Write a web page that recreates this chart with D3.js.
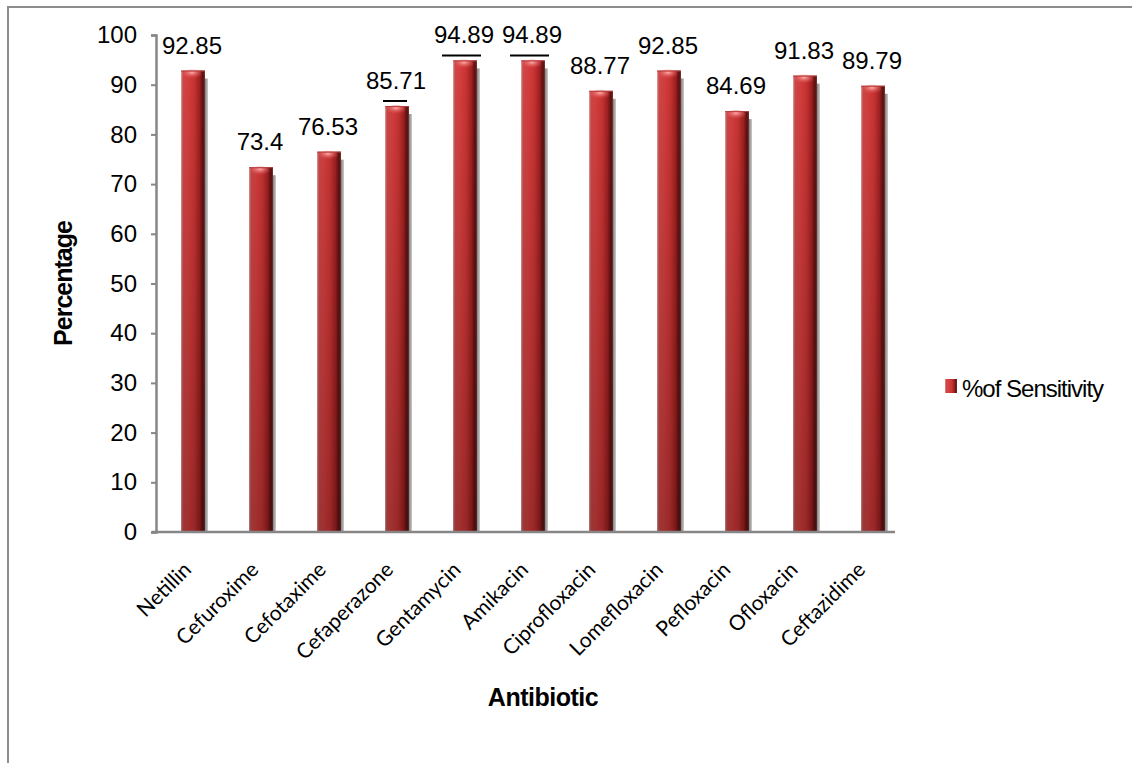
<!DOCTYPE html>
<html>
<head>
<meta charset="utf-8">
<script src="https://cdn.jsdelivr.net/npm/d3@7"></script>
<style>
  html, body { margin: 0; padding: 0; background: #fff; }
  svg { display: block; }
</style>
</head>
<body>
<svg id="chart" width="1132" height="763"></svg>
<script>
// Antibiotic sensitivity data
const antibiotics = ["Netillin", "Cefuroxime", "Cefotaxime", "Cefaperazone", "Gentamycin",
  "Amikacin", "Ciprofloxacin", "Lomefloxacin", "Pefloxacin", "Ofloxacin", "Ceftazidime"];
const sensitivity = [92.85, 73.4, 76.53, 85.71, 94.89, 94.89, 88.77, 92.85, 84.69, 91.83, 89.79];
const yTicks = [0, 10, 20, 30, 40, 50, 60, 70, 80, 90, 100];
const seriesName = "%of Sensitivity";
// labels that carry a short rule above their bar
const ruled = ["Cefaperazone", "Gentamycin", "Amikacin"];

const svg = d3.select("#chart");
const W = 1132, H = 763;
const plot = { left: 156, right: 904, axisEnd: 895, top: 35, bottom: 532 };

// outer chart frame
svg.append("rect")
  .attr("x", 8).attr("y", 7)
  .attr("width", W + 20).attr("height", H + 20)
  .attr("fill", "none").attr("stroke", "#8c8c8c").attr("stroke-width", 2);

// bars sit on a band scale; the slanted category labels use the (slightly tighter) front-edge scale
const x = d3.scaleBand().domain(antibiotics).range([plot.left, plot.right]).padding(0);
const xLabel = d3.scalePoint().domain(antibiotics).range([192, 866]);
const y = d3.scaleLinear().domain([0, 100]).range([plot.bottom, plot.top]);

const defs = svg.append("defs");
// cylinder shading across the bar
const hg = defs.append("linearGradient").attr("id", "cyl").attr("x1", 0).attr("x2", 1).attr("y1", 0).attr("y2", 0);
[[0, "#e7a7a7"], [0.08, "#cc4a4a"], [0.3, "#d83e3e"], [0.55, "#ca3434"], [0.78, "#a02020"], [0.92, "#5a0e0e"], [1, "#7a3a3a"]]
  .forEach(([o, c]) => hg.append("stop").attr("offset", o).attr("stop-color", c));
// darkening toward the base
const vg = defs.append("linearGradient").attr("id", "fade")
  .attr("gradientUnits", "userSpaceOnUse")
  .attr("x1", 0).attr("x2", 0).attr("y1", plot.top).attr("y2", plot.bottom);
vg.append("stop").attr("offset", 0).attr("stop-color", "#000").attr("stop-opacity", 0);
vg.append("stop").attr("offset", 1).attr("stop-color", "#000").attr("stop-opacity", 0.25);
// highlight on the bar top
const rg = defs.append("radialGradient").attr("id", "cap").attr("cx", 0.5).attr("cy", 0.3).attr("r", 0.6);
rg.append("stop").attr("offset", 0).attr("stop-color", "#ffb0b0").attr("stop-opacity", 0.95);
rg.append("stop").attr("offset", 1).attr("stop-color", "#e04848").attr("stop-opacity", 0);
// cast shadow beside the bar
const sg = defs.append("linearGradient").attr("id", "shadow").attr("x1", 0).attr("x2", 1);
sg.append("stop").attr("offset", 0).attr("stop-color", "#555");
sg.append("stop").attr("offset", 1).attr("stop-color", "#bbb");

const barW = 24, shift = 3;
const data = antibiotics.map((a, i) => ({ name: a, value: sensitivity[i] }));
const cx = d => x(d.name) + x.bandwidth() / 2 + shift;

const bars = svg.append("g").selectAll("g").data(data).join("g");

// shadow strip
bars.append("rect")
  .attr("x", d => cx(d) + barW / 2)
  .attr("y", d => y(d.value) + 8)
  .attr("width", 3)
  .attr("height", d => plot.bottom - y(d.value) - 8)
  .attr("fill", "url(#shadow)").attr("opacity", 0.75);

bars.append("rect")
  .attr("x", d => cx(d) - barW / 2)
  .attr("y", d => y(d.value))
  .attr("width", barW)
  .attr("height", d => plot.bottom - y(d.value))
  .attr("fill", "url(#cyl)");
bars.append("rect")
  .attr("x", d => cx(d) - barW / 2)
  .attr("y", d => y(d.value))
  .attr("width", barW)
  .attr("height", d => plot.bottom - y(d.value))
  .attr("fill", "url(#fade)");
bars.append("ellipse")
  .attr("cx", d => cx(d) - 1)
  .attr("cy", d => y(d.value) + 4)
  .attr("rx", barW / 2 - 2).attr("ry", 5)
  .attr("fill", "url(#cap)");
bars.append("line")
  .attr("x1", d => cx(d) - barW / 2).attr("x2", d => cx(d) + barW / 2)
  .attr("y1", d => y(d.value) + 0.5).attr("y2", d => y(d.value) + 0.5)
  .attr("stroke", "#b84040").attr("stroke-width", 1);

// value labels
bars.append("text")
  .attr("x", d => cx(d) - 1)
  .attr("y", d => y(d.value) - 17)
  .attr("text-anchor", "middle")
  .attr("font-family", "Liberation Sans, Arial, sans-serif")
  .attr("font-size", 24)
  .attr("fill", "#000")
  .text(d => d.value);

// short rules above selected bars
bars.filter(d => ruled.includes(d.name)).append("line")
  .attr("x1", d => cx(d) - (d.value > 90 ? 23 : 14))
  .attr("x2", d => cx(d) + (d.value > 90 ? 16 : 10))
  .attr("y1", d => y(d.value) - 5).attr("y2", d => y(d.value) - 5)
  .attr("stroke", "#000").attr("stroke-width", 2);

// y axis
const yAxis = svg.append("g").attr("transform", `translate(${plot.left},0)`)
  .call(d3.axisLeft(y).tickValues(yTicks).tickSize(5).tickPadding(14));
yAxis.select(".domain").attr("stroke", "#868686").attr("stroke-width", 2.5);
yAxis.selectAll(".tick line").attr("stroke", "#868686").attr("stroke-width", 2);
yAxis.selectAll(".tick text")
  .attr("font-family", "Liberation Sans, Arial, sans-serif")
  .attr("font-size", 24).attr("fill", "#000");

// x axis line
svg.append("line")
  .attr("x1", plot.left - 4).attr("x2", plot.axisEnd)
  .attr("y1", plot.bottom).attr("y2", plot.bottom)
  .attr("stroke", "#868686").attr("stroke-width", 2.5);

// x category labels
const xAxis = svg.append("g").attr("transform", `translate(0,${plot.bottom})`)
  .call(d3.axisBottom(xLabel).tickSize(0).tickPadding(0));
xAxis.select(".domain").remove();
xAxis.selectAll(".tick text")
  .attr("font-family", "Lato, 'Open Sans', sans-serif")
  .attr("font-size", 21).attr("fill", "#000")
  .attr("text-anchor", "end")
  .attr("dy", 0)
  .attr("transform", "translate(0,39) rotate(-45)");

// axis titles
svg.append("text")
  .attr("transform", `translate(72,${(plot.top + plot.bottom) / 2}) rotate(-90)`)
  .attr("text-anchor", "middle")
  .attr("font-family", "Liberation Sans, Arial, sans-serif")
  .attr("font-weight", "bold").attr("font-size", 25).attr("letter-spacing", -1)
  .text("Percentage");
svg.append("text")
  .attr("x", 543).attr("y", 706)
  .attr("text-anchor", "middle")
  .attr("font-family", "Liberation Sans, Arial, sans-serif")
  .attr("font-weight", "bold").attr("font-size", 25).attr("letter-spacing", -0.5)
  .text("Antibiotic");

// legend
const lg = svg.append("g").attr("transform", "translate(945,379)");
lg.append("rect").attr("width", 12).attr("height", 14).attr("fill", "url(#cyl)");
lg.append("text")
  .attr("x", 17).attr("y", 18)
  .attr("font-family", "Liberation Sans, Arial, sans-serif")
  .attr("font-size", 24).attr("letter-spacing", -1)
  .text(seriesName);
</script>
</body>
</html>
